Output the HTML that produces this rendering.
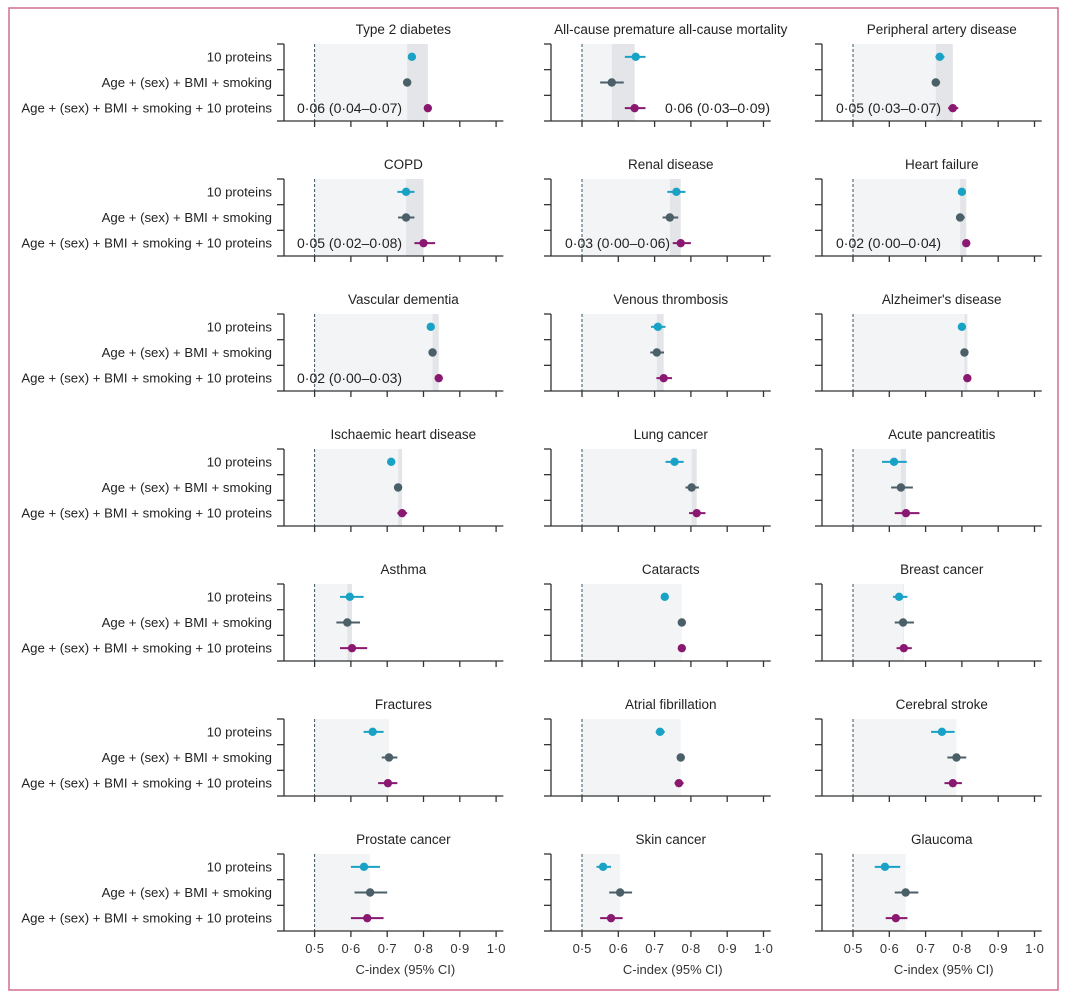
<!DOCTYPE html>
<html><head><meta charset="utf-8"><style>
body{margin:0;background:#fff;}
svg{display:block;font-family:"Liberation Sans",sans-serif;}
</style></head><body>
<svg id="c" width="1080" height="1001">
<rect x="9" y="8" width="1049" height="982" fill="none" stroke="#d36b90" stroke-width="1.5"/>
</svg>
<script>
const titles=["Type 2 diabetes","All-cause premature all-cause mortality","Peripheral artery disease","COPD","Renal disease","Heart failure","Vascular dementia","Venous thrombosis","Alzheimer's disease","Ischaemic heart disease","Lung cancer","Acute pancreatitis","Asthma","Cataracts","Breast cancer","Fractures","Atrial fibrillation","Cerebral stroke","Prostate cancer","Skin cancer","Glaucoma"];
const proteinEst=[0.768,0.648,0.739,0.752,0.760,0.800,0.820,0.709,0.800,0.711,0.755,0.613,0.597,0.728,0.627,0.660,0.715,0.745,0.636,0.558,0.588];
const proteinLo=[0.758,0.618,0.727,0.728,0.735,0.790,0.812,0.690,0.792,0.700,0.730,0.580,0.570,0.718,0.610,0.635,0.703,0.715,0.600,0.540,0.560];
const proteinHi=[0.778,0.675,0.752,0.775,0.785,0.810,0.828,0.730,0.808,0.722,0.780,0.648,0.635,0.738,0.650,0.690,0.728,0.780,0.680,0.580,0.630];
const baseEst=[0.755,0.582,0.728,0.752,0.742,0.795,0.825,0.706,0.807,0.730,0.802,0.632,0.590,0.775,0.638,0.705,0.772,0.785,0.653,0.605,0.645];
const baseLo=[0.745,0.550,0.718,0.730,0.722,0.785,0.818,0.688,0.800,0.720,0.785,0.605,0.560,0.765,0.615,0.685,0.762,0.760,0.610,0.575,0.615];
const baseHi=[0.765,0.615,0.740,0.775,0.765,0.808,0.832,0.726,0.815,0.740,0.822,0.665,0.625,0.785,0.668,0.728,0.782,0.812,0.700,0.638,0.680];
const fullEst=[0.812,0.645,0.775,0.800,0.772,0.812,0.842,0.725,0.815,0.741,0.816,0.646,0.603,0.775,0.640,0.702,0.767,0.775,0.645,0.580,0.618];
const fullLo=[0.802,0.618,0.762,0.775,0.750,0.803,0.835,0.705,0.808,0.728,0.795,0.615,0.570,0.765,0.620,0.675,0.755,0.752,0.600,0.550,0.590];
const fullHi=[0.822,0.675,0.790,0.832,0.800,0.822,0.850,0.748,0.822,0.755,0.840,0.683,0.645,0.785,0.662,0.728,0.780,0.800,0.690,0.612,0.650];
const annotations={0:"0·06 (0·04–0·07)",1:"0·06 (0·03–0·09)",2:"0·05 (0·03–0·07)",3:"0·05 (0·02–0·08)",4:"0·03 (0·00–0·06)",5:"0·02 (0·00–0·04)",6:"0·02 (0·00–0·03)"};
const tickVals=[0.5,0.6,0.7,0.8,0.9,1.0];
const tickLabels=["0·5","0·6","0·7","0·8","0·9","1·0"];
const rowLabels=["10 proteins","Age + (sex) + BMI + smoking","Age + (sex) + BMI + smoking + 10 proteins"];
const colors=["#19a2c6","#4b5f68","#8a1870"];

const svg=document.getElementById('c');
const NS="http://www.w3.org/2000/svg";
function mk(tag,attrs,parent){const e=document.createElementNS(NS,tag);for(const k in attrs)e.setAttribute(k,attrs[k]);(parent||svg).appendChild(e);return e;}
const colAxisX=[284,551,822];
const colHalf=[314.6,582,853];
const scale=363;
function xs(col,v){return colHalf[col]+(v-0.5)*scale;}

titles.forEach((t,i)=>{
  const col=i%3,row=Math.floor(i/3);
  const top=44+row*135, bot=top+77;
  const g=mk('g',{});
  
  
  const x0=colAxisX[col];
  const b=baseEst[i],f=fullEst[i];
  const band=mk('rect',{x:xs(col,0.5),y:top,width:xs(col,b)-xs(col,0.5),height:bot-top,fill:'#f2f4f6'},g);
  
  
  if(f>b){
    const db=mk('rect',{x:xs(col,b),y:top,width:xs(col,f)-xs(col,b),height:bot-top,fill:'#e3e5e8'},g);
    
    
  }
  const ref=mk('line',{x1:xs(col,0.5),x2:xs(col,0.5),y1:top,y2:bot,stroke:'#3a5460','stroke-width':1,'stroke-dasharray':'3,2'},g);
  
  
  const ya=mk('line',{x1:x0,x2:x0,y1:top,y2:bot,stroke:'#333','stroke-width':1.3},g);
  
  
  for(let k=0;k<4;k++){const yy=top+k*77/3;mk('line',{x1:x0-7,x2:x0,y1:yy,y2:yy,stroke:'#333','stroke-width':1.3},g);}
  const xa=mk('line',{x1:x0,x2:xs(col,1.02),y1:bot,y2:bot,stroke:'#333','stroke-width':1.3},g);
  
  
  tickVals.forEach((v,k)=>{
    mk('line',{x1:xs(col,v),x2:xs(col,v),y1:bot,y2:bot+6,stroke:'#333','stroke-width':1.3},g);
    if(row===6){const tl=mk('text',{x:xs(col,v),y:bot+22,'text-anchor':'middle','font-size':13,fill:'#333'},g);tl.textContent=tickLabels[k];
      
      }
  });
  if(row===6){const at=mk('text',{x:xs(col,0.75),y:bot+43,'text-anchor':'middle','font-size':13,fill:'#333'},g);at.textContent='C-index (95% CI)';
    
    }
  const tt=mk('text',{x:xs(col,0.75)-2,y:top-10,'text-anchor':'middle','font-size':13.5,fill:'#222'},g);
  tt.textContent=t;
  
  
  const ests=[proteinEst[i],baseEst[i],fullEst[i]],los=[proteinLo[i],baseLo[i],fullLo[i]],his=[proteinHi[i],baseHi[i],fullHi[i]];
  for(let r=0;r<3;r++){
    const yy=top+(r+0.5)*77/3;
    mk('line',{x1:xs(col,los[r]),x2:xs(col,his[r]),y1:yy,y2:yy,stroke:colors[r],'stroke-width':2},g);
    const c=mk('circle',{cx:xs(col,ests[r]),cy:yy,r:4.2,fill:colors[r]},g);
    
    
    if(col===0){const l=mk('text',{x:272,y:yy+4.5,'text-anchor':'end','font-size':13.2,fill:'#222'},g);l.textContent=rowLabels[r];
      
      }
  }
  if(annotations[i]!==undefined){
    const yy=top+2.5*77/3+5;
    let a;
    if(i===1) a=mk('text',{x:770,y:yy,'text-anchor':'end','font-size':14,fill:'#222'},g);
    else a=mk('text',{x:[297,565,836][col],y:yy,'font-size':14,fill:'#222'},g);
    a.textContent=annotations[i];
    
    
  }
});
</script>
</body></html>
